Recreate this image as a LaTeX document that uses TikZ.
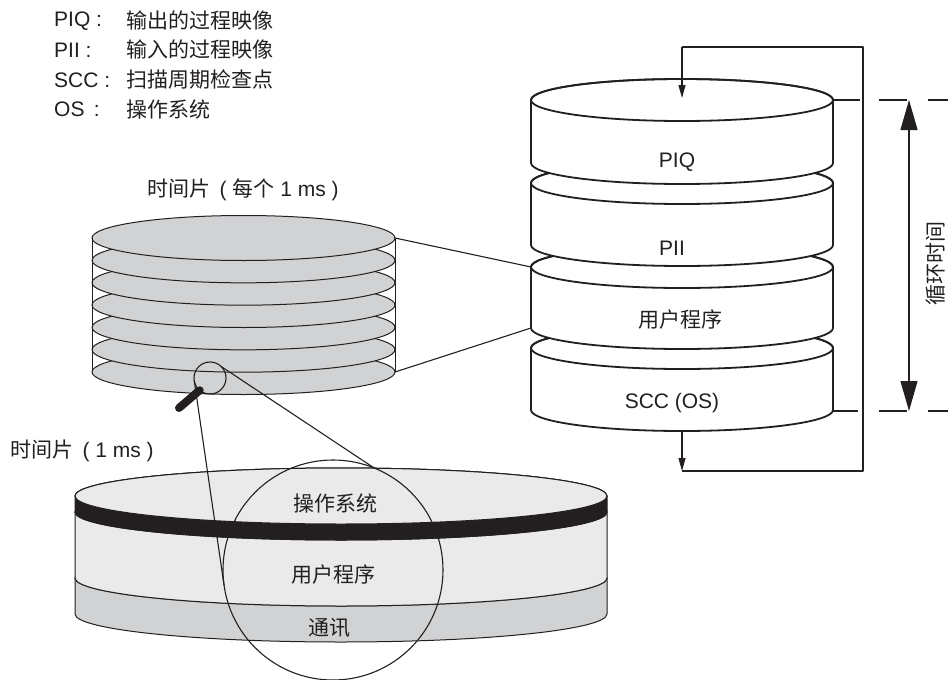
\documentclass[tikz,border=0pt]{standalone}
\usepackage{fontspec}
\setmainfont{Liberation Sans}
\newfontfamily\cjk{Noto Sans CJK SC}
\newcommand\zh[1]{{\cjk #1}}
\usetikzlibrary{arrows.meta}

\definecolor{ink}{HTML}{231F20}
\definecolor{slicegray}{HTML}{D1D2D4}
\definecolor{palegray}{HTML}{EAEAEB}

% one cylinder layer: centre x, top y, bottom y, x radius, y radius, fill
\newcommand\drum[6]{%
  \filldraw[fill=#6] (#1-#4,#2) -- (#1-#4,#3)
    arc[start angle=180,end angle=360,x radius=#4pt,y radius=#5pt]
    -- (#1+#4,#2)
    arc[start angle=0,end angle=180,x radius=#4pt,y radius=#5pt] -- cycle;
  \draw (#1,#2) ellipse[x radius=#4pt,y radius=#5pt];}

\begin{document}
\begin{tikzpicture}[x=1pt,y=-1pt,line join=round,draw=ink,
  every node/.style={font=\fontsize{21}{25}\selectfont,inner sep=0pt,text=ink},
  thin line/.style={line width=1.1pt},
  lens/.style={circle,draw=ink,line width=1.1pt,inner sep=0pt,outer sep=0pt},
  small tip/.style={-{Triangle[length=13pt,width=7pt]}},
  big tips/.style={{Triangle[length=30pt,width=17pt]}-{Triangle[length=30pt,width=17pt]}}]
\useasboundingbox (0,0) rectangle (948,680);

% legend
\node[anchor=west] (l1) at (54,21)  {PIQ :};
\node[anchor=west] (t1) at (126,21) {\zh{输出的过程映像}};
\node[anchor=west] (l2) at (54,50)  {PII :};
\node[anchor=west] (t2) at (126,50) {\zh{输入的过程映像}};
\node[anchor=west] (l3) at (54,80)  {SCC :};
\node[anchor=west] (t3) at (126,80) {\zh{扫描周期检查点}};
\node[anchor=west] (l4) at (54,109) {OS\, :};
\node[anchor=west] (t4) at (126,109) {\zh{操作系统}};

% stack of 1 ms time slices
\node (slicetitle) at (243,190) {\zh{时间片}\, ( \zh{每个} 1 ms )};
\begin{scope}[line width=1pt]
  \foreach \yy in {372,349.67,327.33,305,282.67,260.33,238}
    \filldraw[fill=slicegray] (243.5,\yy) ellipse[x radius=151.5pt,y radius=22.5pt];
  \draw (92,238) -- (92,372);
  \draw (395,238) -- (395,372);
\end{scope}
\coordinate (stackTR) at (395,238);
\coordinate (stackBR) at (395,372);

% one 1 ms slice, enlarged
\node[anchor=west] (onetitle) at (10,451) {\zh{时间片}\, ( 1 ms )};
\begin{scope}[line width=1pt]
  \drum{341}{578}{614}{266}{28}{slicegray}
  \drum{341}{512}{578}{266}{28}{palegray}
  \drum{341}{496}{512}{266}{28}{ink}
  \filldraw[fill=palegray] (341,496) ellipse[x radius=266pt,y radius=28pt];
\end{scope}
\node (os) at (335,503) {\zh{操作系统}};
\node (up) at (333,575) {\zh{用户程序}};
\node (com) at (329,628) {\zh{通讯}};

% links from the slice stack to the user program
\draw[thin line] (stackTR) -- (531,267) coordinate (userTL);
\draw[thin line] (stackBR) -- (531,328) coordinate (userBL);

% scan cycle
\begin{scope}[line width=1.8pt]
  \drum{682}{348}{410}{151}{21}{white}
  \drum{682}{267}{328}{151}{21}{white}
  \drum{682}{183}{245}{151}{21}{white}
  \drum{682}{100}{163}{151}{21}{white}
\end{scope}
\node (piq) at (677,162) {PIQ};
\node (pii) at (672,248) {PII};
\node (user) at (680,320) {\zh{用户程序}};
\node (scc) at (672,403) {SCC (OS)};

% loop back from the end of the cycle to its start
\coordinate (sccOut) at (682,432);
\coordinate (loopBL) at (682,471);
\coordinate (loopBR) at (863,471);
\coordinate (loopTR) at (863,47);
\coordinate (loopTL) at (682,47);
\coordinate (piqIn) at (682,98);
\draw[thin line,small tip] (sccOut) -- (loopBL);
\draw[thin line] (loopBL) -- (loopBR) -- (loopTR) -- (loopTL);
\draw[thin line,small tip] (loopTL) -- (piqIn);

% cycle time dimension
\foreach \yy/\gap in {100/860,411/858}{
  \draw[thin line] (833,\yy) -- (\gap,\yy);
  \draw[thin line] (879,\yy) -- (907,\yy);
  \draw[thin line] (928,\yy) -- (948,\yy);}
\coordinate (dimTop) at (909,100);
\coordinate (dimBot) at (909,411);
\draw[thin line,big tips] (dimTop) -- (dimBot);
\node[rotate=90] (cyc) at (936,263) {\zh{循环时间}};

% magnifier
\node[lens,minimum size=32pt] (lensA) at (210,378) {};
\node[lens,minimum size=220pt] (lensB) at (333,570) {};
\draw[thin line] (lensA.187) -- (lensB.188);
\draw[thin line] (lensA.47) -- (lensB.68);
\coordinate (handleEnd) at (179,408);
\draw[line width=8pt,line cap=round] (lensA.230) -- (handleEnd);
\end{tikzpicture}
\end{document}
